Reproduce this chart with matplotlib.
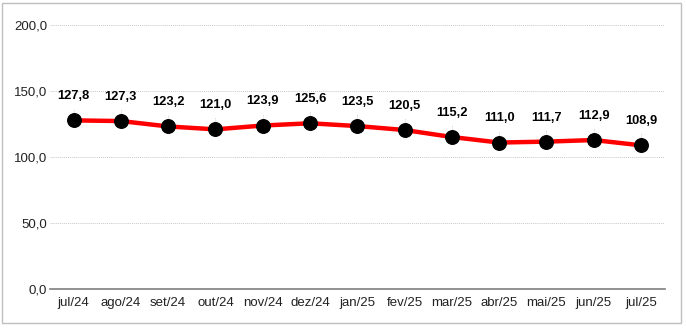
import matplotlib.pyplot as plt
from matplotlib.patches import Rectangle

plt.rcParams['font.family'] = ['Liberation Sans', 'DejaVu Sans']

meses = ['jul/24', 'ago/24', 'set/24', 'out/24', 'nov/24', 'dez/24', 'jan/25',
         'fev/25', 'mar/25', 'abr/25', 'mai/25', 'jun/25', 'jul/25']
valores = [127.8, 127.3, 123.2, 121.0, 123.9, 125.6, 123.5,
           120.5, 115.2, 111.0, 111.7, 112.9, 108.9]
yticks = [0, 50, 100, 150, 200]

fig = plt.figure(figsize=(6.86, 3.31), dpi=100)
ax = fig.add_axes([0.0729, 0.127, 0.896, 0.797])

x = list(range(len(meses)))
ax.plot(x, valores, color='#ff0000', lw=3.2, zorder=3, solid_capstyle='round')
ax.scatter(x, valores, s=95, color='black', zorder=4)

for xi, v in zip(x, valores):
    lbl = f'{v:.1f}'.replace('.', ',')
    ax.annotate(lbl, (xi, v), xytext=(0, 13), textcoords='offset points',
                ha='center', va='bottom', fontsize=9.3, fontweight='bold', color='black')
    ax.plot([xi, xi], [v + 3, v + 9], color='#cccccc', lw=0.6, ls=(0, (1, 1)), zorder=2)

ax.set_xlim(-0.5, len(meses) - 0.5)
ax.set_ylim(0, 200)
ax.set_yticks(yticks)
ax.set_yticklabels([f'{t:.1f}'.replace('.', ',') for t in yticks])
ax.set_xticks(x)
ax.set_xticklabels(meses)
ax.tick_params(axis='both', length=0, labelsize=9.5, colors='#222222')
ax.tick_params(axis='y', pad=2)
ax.tick_params(axis='x', pad=6)
ax.grid(axis='y', color='#c8c8c8', lw=0.7, ls=(0, (1, 1)))
ax.set_axisbelow(True)
for s in ['top', 'right', 'left']:
    ax.spines[s].set_visible(False)
ax.spines['bottom'].set_color('#7f7f7f')
ax.spines['bottom'].set_linewidth(1.2)

fig.patches.append(Rectangle((2 / 686, 8 / 331), 679 / 686, 320 / 331, transform=fig.transFigure,
                             fill=False, edgecolor='#bfbfbf', lw=1))

fig.savefig('out.png', dpi=100)
